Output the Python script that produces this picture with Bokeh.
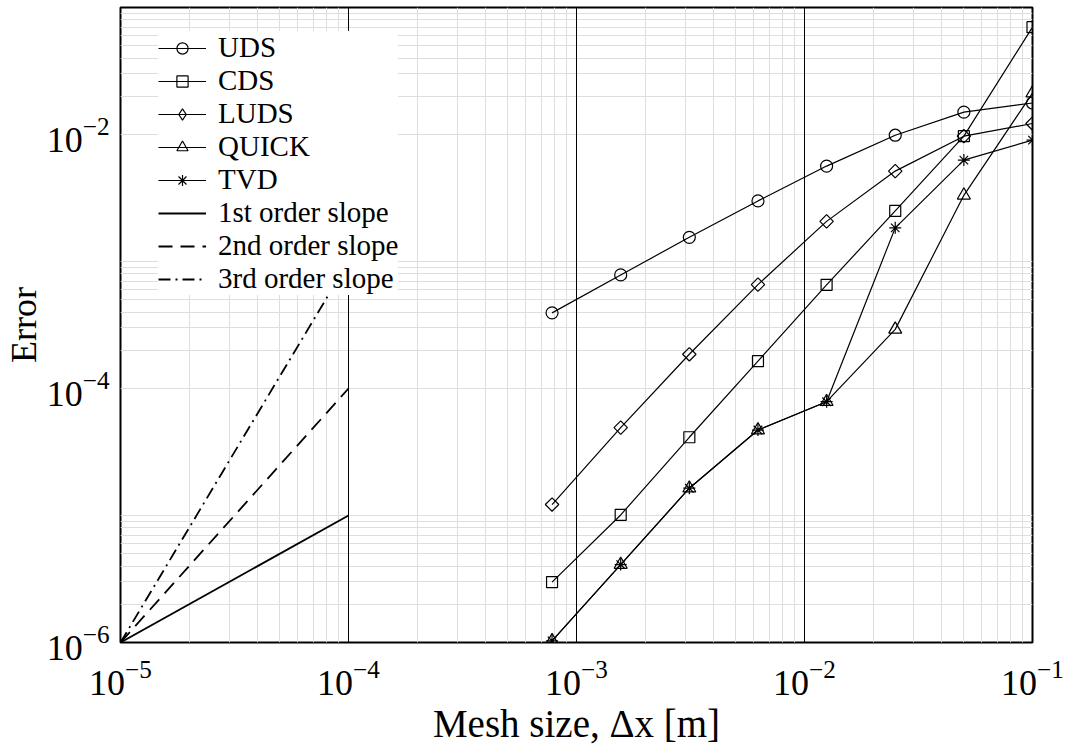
import math
from bokeh.plotting import figure
from bokeh.models import Range1d, FixedTicker, Grid, Legend, LegendItem, ColumnDataSource
from bokeh.embed import file_html
from bokeh.resources import INLINE

# ---- data ----
dx = [0.1, 0.05, 0.025, 0.0125, 0.00625, 0.003125, 0.0015625, 0.00078125]
uds = [0.0177, 0.0150, 0.00987, 0.00564, 0.0030, 0.00155, 7.84e-4, 3.94e-4]
cds = [0.070, 0.0097, 0.0025, 6.55e-4, 1.64e-4, 4.13e-5, 1.01e-5, 2.99e-6]
luds = [0.0122, 0.0097, 0.00515, 0.00207, 6.58e-4, 1.86e-4, 4.92e-5, 1.22e-5]
quick = [0.0212, 0.00332, 2.92e-4, 7.87e-5, 4.71e-5, 1.64e-5, 4.11e-6, 1.03e-6]
tvd = [0.00902, 0.00629, 0.00184, 7.87e-5, 4.71e-5, 1.64e-5, 4.11e-6, 1.03e-6]

slope_x = [1e-5, 1e-4]
slope1 = [1e-6, 1e-5]
slope2 = [1e-6, 1e-4]
slope3 = [1e-6, 1e-3]

x_ticks = [1e-5, 1e-4, 1e-3, 1e-2, 1e-1]
y_ticks = [1e-6, 1e-4, 1e-2]
x_minor = [m * k for m in x_ticks[:-1] for k in range(2, 10)]
y_minor = [m * k for m in y_ticks for k in range(2, 11)]

# name, values, plot marker, size, angle, legend marker
series = [
    ("UDS", uds, "circle", 12, 0.0, "circle"),
    ("CDS", cds, "square", 11, 0.0, "square"),
    ("LUDS", luds, "square", 9.5, math.pi / 4, "diamond"),
    ("QUICK", quick, "triangle", 13, 0.0, "triangle"),
    ("TVD", tvd, "asterisk", 12, 0.0, "asterisk"),
]
slopes = [
    ("1st order slope", slope1, "solid"),
    ("2nd order slope", slope2, "14 8"),
    ("3rd order slope", slope3, "12 5 2 5"),
]

FONT = "Liberation Serif"
GRID = "#dedede"

p = figure(width=1068, height=747, x_axis_type="log", y_axis_type="log",
           x_range=Range1d(1e-5, 1e-1), y_range=Range1d(1e-6, 1e-1),
           output_backend="svg", toolbar_location=None,
           min_border_left=119, min_border_right=36, min_border_top=7, min_border_bottom=102)
p.background_fill_color = "white"
p.border_fill_color = "white"
p.outline_line_color = "black"
p.outline_line_width = 2
p.outline_line_alpha = 1

xt = FixedTicker(ticks=x_ticks, minor_ticks=x_minor)
yt = FixedTicker(ticks=y_ticks, minor_ticks=y_minor)
p.xaxis.ticker = xt
p.yaxis.ticker = yt
p.xgrid.ticker = xt
p.ygrid.ticker = yt

p.xgrid.grid_line_color = None
p.xgrid.minor_grid_line_color = GRID
p.xgrid.minor_grid_line_width = 1
p.ygrid.grid_line_color = GRID
p.ygrid.grid_line_width = 1
p.ygrid.minor_grid_line_color = GRID
p.ygrid.minor_grid_line_width = 1
major_x = Grid(dimension=0, ticker=xt, grid_line_color="black", grid_line_width=1)
p.add_layout(major_x, "center")

for ax in (p.xaxis, p.yaxis):
    ax.axis_line_color = None
    ax.major_tick_line_color = None
    ax.minor_tick_line_color = None
    ax.major_label_text_font = FONT
    ax.major_label_text_font_size = "36px"
    ax.major_label_text_color = "black"
    ax.axis_label_text_font = FONT
    ax.axis_label_text_font_style = "normal"
    ax.axis_label_text_color = "black"

p.xaxis.axis_label = "Mesh size, Δx [m]"
p.yaxis.axis_label = "Error"
p.xaxis.axis_label_text_font_size = "39px"
p.yaxis.axis_label_text_font_size = "36px"
p.xaxis.major_label_standoff = 12
p.yaxis.major_label_standoff = 5
p.xaxis.axis_label_standoff = 4
p.yaxis.axis_label_standoff = 0

items = []
for name, vals, marker, size, ang, leg_marker in series:
    src = ColumnDataSource(dict(x=dx, y=vals))
    lr = p.line("x", "y", source=src, line_color="black", line_width=1.2)
    sr = p.scatter("x", "y", source=src, marker=marker, size=size, angle=ang,
                   line_color="black", line_width=1.2, fill_color=None)
    if leg_marker != marker:
        # legend-only glyph (no finite data points, so nothing is drawn in the plot)
        dummy_src = ColumnDataSource(dict(x=[float("nan")], y=[float("nan")]))
        sr = p.scatter("x", "y", source=dummy_src, marker=leg_marker, size=size,
                       line_color="black", line_width=1.2, fill_color=None)
    items.append(LegendItem(label=name, renderers=[lr, sr]))

for name, vals, dash in slopes:
    src = ColumnDataSource(dict(x=slope_x, y=vals))
    lr = p.line("x", "y", source=src, line_color="black", line_width=1.8, line_dash=dash)
    items.append(LegendItem(label=name, renderers=[lr]))

legend = Legend(items=items, location=(38, 347), padding=10, spacing=0,
                glyph_width=48, glyph_height=28, label_height=28, label_standoff=12,
                background_fill_color="white", background_fill_alpha=1,
                border_line_color=None,
                label_text_font=FONT, label_text_font_size="29px",
                label_text_color="black")
p.add_layout(legend)

open("out.html", "w").write(file_html(p, INLINE))
